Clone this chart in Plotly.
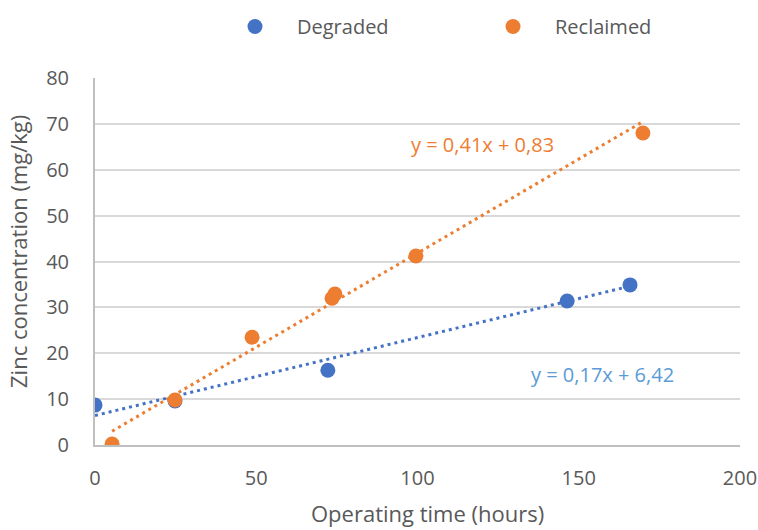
import plotly.graph_objects as go

deg_x = [0, 24.8, 72.2, 146.4, 165.9]
deg_y = [8.7, 9.6, 16.3, 31.4, 34.9]
rec_x = [5.3, 24.8, 48.7, 73.5, 74.4, 99.5, 169.9]
rec_y = [0.2, 9.8, 23.5, 32.0, 32.9, 41.2, 68.0]

deg_fit = (0.17, 6.42)
rec_fit = (0.41, 0.83)
x_ticks = [0, 50, 100, 150, 200]
y_ticks = [0, 10, 20, 30, 40, 50, 60, 70, 80]

BLUE = "#4472C4"
ORANGE = "#ED7D31"
FONT = "Open Sans"
GREY = "#595959"

# plot area in pixels
L, R, T, B = 95, 740, 78, 445

def px(xp):
    return (xp - L) / (R - L)

def py(yp):
    return (B - yp) / (B - T)

fig = go.Figure()

def trend(xs, fit):
    xx = [min(xs), max(xs)]
    return xx, [fit[0] * v + fit[1] for v in xx]

tx, ty = trend(deg_x, deg_fit)
fig.add_trace(go.Scatter(x=tx, y=ty, mode="lines", line=dict(color=BLUE, width=3, dash="3px,4px"),
                         showlegend=False, hoverinfo="skip"))
tx, ty = trend(rec_x, rec_fit)
fig.add_trace(go.Scatter(x=tx, y=ty, mode="lines", line=dict(color=ORANGE, width=3, dash="3px,4px"),
                         showlegend=False, hoverinfo="skip"))

fig.add_trace(go.Scatter(x=deg_x, y=deg_y, mode="markers", name="Degraded",
                         marker=dict(color=BLUE, size=15)))
fig.add_trace(go.Scatter(x=rec_x, y=rec_y, mode="markers", name="Reclaimed",
                         marker=dict(color=ORANGE, size=15)))

fig.add_annotation(x=120.3, y=65.4, text="y = 0,41x + 0,83", showarrow=False,
                   font=dict(family=FONT, size=20, color=ORANGE), xref="x", yref="y")
fig.add_annotation(x=157.5, y=15.3, text="y = 0,17x + 6,42", showarrow=False,
                   font=dict(family=FONT, size=20, color="#5B9BD5"), xref="x", yref="y")

fig.add_annotation(x=px(427), y=py(513), xref="paper", yref="paper",
                   xanchor="center", yanchor="middle", showarrow=False,
                   text="Operating time (hours)", font=dict(family=FONT, size=22, color=GREY))
fig.add_annotation(x=px(18), y=py(252), xref="paper", yref="paper",
                   xanchor="center", yanchor="middle", showarrow=False, textangle=-90,
                   text="Zinc concentration (mg/kg)", font=dict(family=FONT, size=22, color=GREY))

fig.update_layout(
    width=758, height=530,
    margin=dict(l=L, r=758 - R, t=T, b=530 - B),
    paper_bgcolor="white", plot_bgcolor="white",
    font=dict(family=FONT, size=20, color=GREY),
    legend=dict(orientation="h", xref="container", x=213 / 758, yref="container", y=1 - 7 / 530,
                yanchor="top", xanchor="left", itemwidth=74,
                entrywidth=169, entrywidthmode="pixels",
                font=dict(size=20, color=GREY)),
    xaxis=dict(range=[0, 200], tickvals=x_ticks, showgrid=False, zeroline=False, automargin=False,
               showline=True, linecolor="#BFBFBF", linewidth=2, ticks="", ticklabelstandoff=14),
    yaxis=dict(range=[0, 80], tickvals=y_ticks, showgrid=True, gridcolor="#D9D9D9", gridwidth=2,
               automargin=False, zeroline=False, showline=True, linecolor="#BFBFBF", linewidth=2,
               ticks="", ticklabelstandoff=20),
)

fig.write_html("out.html")
